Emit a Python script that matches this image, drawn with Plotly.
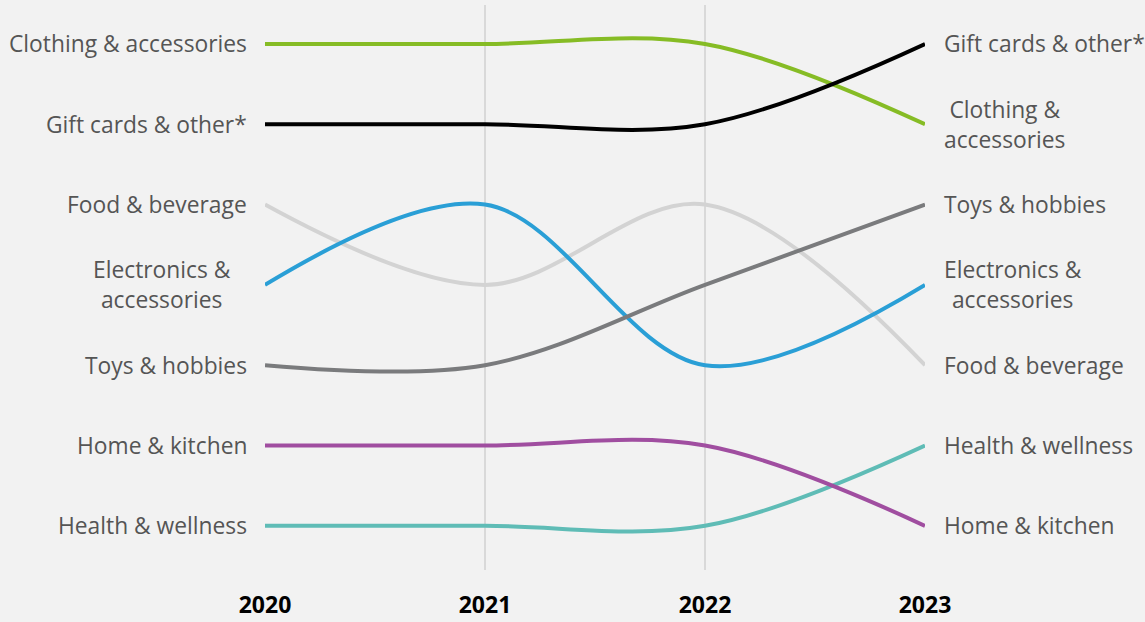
import plotly.graph_objects as go

years = [2020, 2021, 2022, 2023]
year_labels = ["2020", "2021", "2022", "2023"]

categories = [
    "Food & beverage",
    "Health & wellness",
    "Home & kitchen",
    "Electronics & accessories",
    "Toys & hobbies",
    "Clothing & accessories",
    "Gift cards & other*",
]

# Rank of each category per year (1 = top)
rank_food = [3, 4, 3, 5]
rank_health = [7, 7, 7, 6]
rank_home = [6, 6, 6, 7]
rank_electronics = [4, 3, 5, 4]
rank_toys = [5, 5, 4, 3]
rank_clothing = [1, 1, 1, 2]
rank_gift = [2, 2, 2, 1]

ranks = [rank_food, rank_health, rank_home, rank_electronics,
         rank_toys, rank_clothing, rank_gift]

colors = ["#d3d3d3", "#5fbcb6", "#a04ea0", "#2a9fd6", "#7a7b7d",
          "#86bc25", "#000000"]

left_labels = {
    "Food & beverage": "Food & beverage",
    "Health & wellness": "Health & wellness",
    "Home & kitchen": "Home & kitchen",
    "Electronics & accessories": "Electronics &<br>accessories",
    "Toys & hobbies": "Toys & hobbies",
    "Clothing & accessories": "Clothing & accessories",
    "Gift cards & other*": "Gift cards & other*",
}
right_labels = {
    "Food & beverage": "Food & beverage",
    "Health & wellness": "Health & wellness",
    "Home & kitchen": "Home & kitchen",
    "Electronics & accessories": "Electronics &<br>accessories",
    "Toys & hobbies": "Toys & hobbies",
    "Clothing & accessories": "Clothing &<br>accessories",
    "Gift cards & other*": "Gift cards & other*",
}

fig = go.Figure()
annotations = []
label_font = dict(family="Open Sans", size=22.8, color="#555555")

for cat, r, c in zip(categories, ranks, colors):
    fig.add_trace(go.Scatter(
        x=years, y=r, mode="lines",
        line=dict(color=c, width=4, shape="spline", smoothing=1),
        hoverinfo="skip", showlegend=False,
    ))
    # wrapped left-hand labels sit a little further from the axis
    left_shift = -32 if "<br>" in left_labels[cat] else -16
    annotations.append(dict(
        x=years[0], y=r[0], xref="x", yref="y", text=left_labels[cat],
        showarrow=False, xanchor="right", yanchor="middle", align="center",
        xshift=left_shift, font=label_font,
    ))
    annotations.append(dict(
        x=years[-1], y=r[-1], xref="x", yref="y", text=right_labels[cat],
        showarrow=False, xanchor="left", yanchor="middle", align="center",
        xshift=17, font=label_font,
    ))

fig.update_layout(
    width=1145, height=622,
    margin=dict(l=265, r=220, t=5, b=52),
    paper_bgcolor="#f2f2f2", plot_bgcolor="#f2f2f2",
    annotations=annotations,
    xaxis=dict(
        range=[2020, 2023], tickvals=years, ticktext=year_labels,
        showgrid=True, gridcolor="#d9d9d9", gridwidth=2,
        zeroline=False, showline=False, ticks="", automargin=False,
        ticklabelstandoff=19,
        tickfont=dict(family="Open Sans", size=23, color="#000000", weight="bold"),
    ),
    yaxis=dict(
        range=[7.55, 0.515], showgrid=False, zeroline=False,
        showticklabels=False, ticks="", automargin=False,
    ),
)

fig.write_html("out.html")
